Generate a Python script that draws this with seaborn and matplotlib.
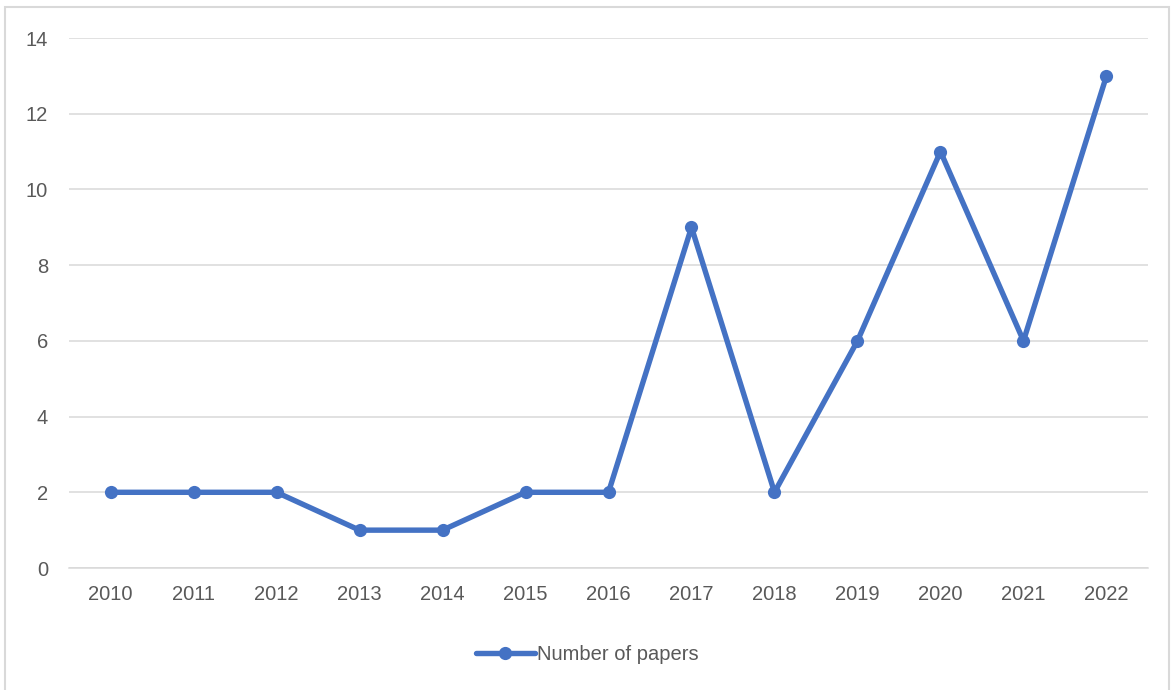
import pandas as pd
import seaborn as sns
import matplotlib.pyplot as plt
from matplotlib.patches import Rectangle

years = ['2010', '2011', '2012', '2013', '2014', '2015', '2016',
         '2017', '2018', '2019', '2020', '2021', '2022']
papers = [2, 2, 2, 1, 1, 2, 2, 9, 2, 6, 11, 6, 13]
y_ticks = [0, 2, 4, 6, 8, 10, 12, 14]

df = pd.DataFrame({'year': years, 'papers': papers})

sns.set_theme(style='white')
plt.rcParams['font.family'] = ['Liberation Sans', 'DejaVu Sans']

fig = plt.figure(figsize=(11.72, 6.9), dpi=100)
ax = fig.add_axes([0.0589, 0.1768, 0.9206, 0.7681])

# light frame around the chart, like the Excel chart area
fig.patches.append(Rectangle((5 / 1172, -0.01), 1164 / 1172, 1 - 7 / 690 + 0.01,
                             transform=fig.transFigure, fill=False,
                             edgecolor='#d9d9d9', linewidth=1.5))

blue = '#4472c4'
sns.lineplot(data=df, x='year', y='papers', ax=ax, color=blue, linewidth=3.9,
             marker='o', markersize=9.5, markeredgewidth=0, sort=False,
             label='Number of papers')

ax.set_xlim(-0.5, len(years) - 0.5)
ax.set_ylim(0, 14)
ax.set_yticks(y_ticks)
ax.yaxis.grid(True, color='#d9d9d9', linewidth=1.1)
ax.set_axisbelow(True)
for side in ['top', 'right', 'left']:
    ax.spines[side].set_visible(False)
ax.spines['bottom'].set_color('#d9d9d9')
ax.spines['bottom'].set_linewidth(1.1)
ax.tick_params(axis='both', length=0, labelsize=14.5, labelcolor='#595959')
ax.tick_params(axis='y', pad=15)
ax.tick_params(axis='x', pad=12)
ax.set_xlabel('')
ax.set_ylabel('')

ax.legend(loc='center', bbox_to_anchor=(0.501, 0.052), bbox_transform=fig.transFigure,
          frameon=False, fontsize=14.5, labelcolor='#595959', handlelength=2.9,
          handletextpad=0.1)

fig.savefig('out.png', dpi=100)
